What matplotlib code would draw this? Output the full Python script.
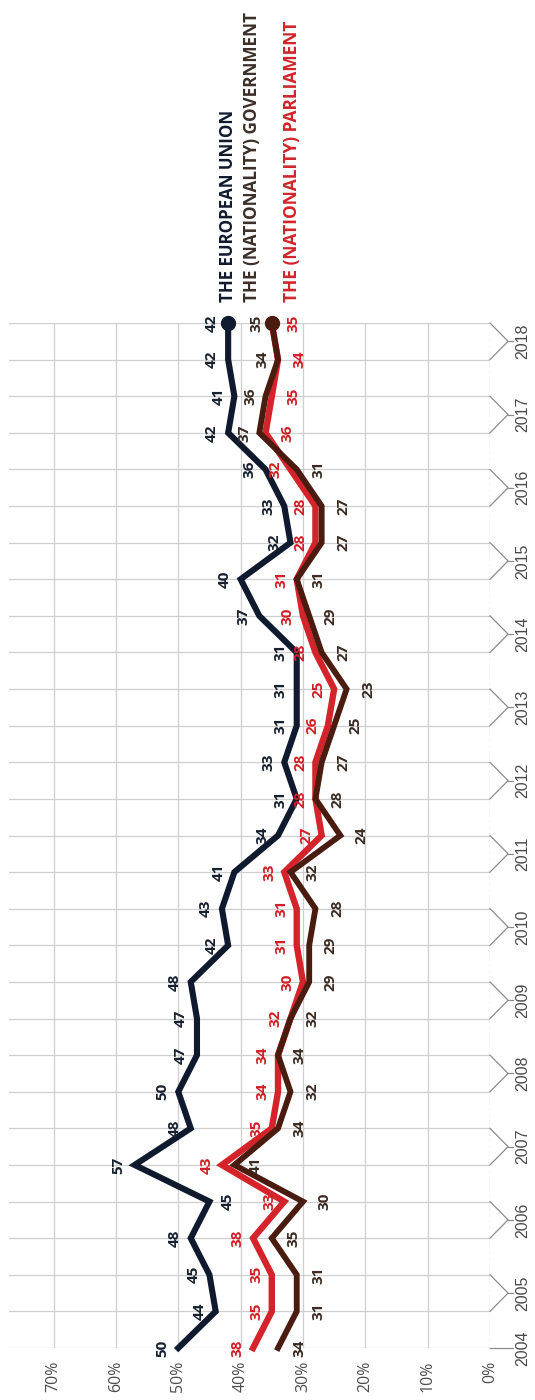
import matplotlib
matplotlib.use("Agg")
import matplotlib.pyplot as plt

# ---------------- data ----------------
first_year = 2004
years = list(range(2005, 2019))          # each of these years has two survey waves
eu = [50, 44, 45, 48, 45, 57, 48, 50, 47, 47, 48, 42, 43, 41, 34,
      31, 33, 31, 31, 31, 37, 40, 32, 33, 36, 42, 41, 42, 42]
gov = [34, 31, 31, 35, 30, 41, 34, 32, 34, 32, 29, 29, 28, 32, 24,
       28, 27, 25, 23, 27, 29, 31, 27, 27, 31, 37, 36, 34, 35]
parl = [38, 35, 35, 38, 33, 43, 35, 34, 34, 32, 30, 31, 31, 33, 27,
        28, 28, 26, 25, 28, 30, 31, 28, 28, 32, 36, 35, 34, 35]
series_names = ["THE EUROPEAN UNION", "THE (NATIONALITY) GOVERNMENT",
                "THE (NATIONALITY) PARLIAMENT"]
pct_ticks = [0, 10, 20, 30, 40, 50, 60, 70]
pct_labels = [f"{p}%" for p in pct_ticks]

# ---------------- style ----------------
C_EU = "#0f1a2e"
C_GOV = "#4a1c10"
C_PARL = "#d4232b"
C_EU_TXT = "#16202f"
C_GOV_TXT = "#3a2a22"
C_PARL_TXT = "#d11f26"
GRID = "#cfcfcf"
FONT = ["Open Sans", "DejaVu Sans"]
EU_LABEL_BELOW = {4}   # wave whose EU label sits on the other side of the line

fig = plt.figure(figsize=(5.35, 14), dpi=100)
ax = fig.add_axes([9 / 535, 52 / 1400, 481 / 535, 1025 / 1400])
n = len(eu)
idx = list(range(n))
ax.set_xlim(77.15, 0)
ax.set_ylim(0, n - 1)
for s in ax.spines.values():
    s.set_visible(False)

# grid
for i in idx:
    ax.axhline(i, color=GRID, lw=0.9, zorder=0)
for p in pct_ticks[1:]:
    ax.axvline(p, color=GRID, lw=0.9, zorder=0)
ax.axvline(0, color="#b0b0b0", lw=0.9, ls=(0, (3, 2)), zorder=0)

ax.set_yticks([])
ax.set_xticks(pct_ticks)
ax.set_xticklabels(pct_labels, rotation=90, fontsize=11.5, color="#4d4d4d",
                   family=FONT)
ax.tick_params(axis="x", length=0, pad=9)

# lines
ax.plot(eu, idx, color=C_EU, lw=4.4, solid_joinstyle="miter", zorder=5,
        clip_on=False)
ax.plot(parl, idx, color=C_PARL, lw=4.6, solid_joinstyle="miter", zorder=3,
        clip_on=False)
ax.plot(gov, idx, color=C_GOV, lw=4.2, solid_joinstyle="miter", zorder=4,
        clip_on=False)
ax.plot([eu[-1]], [idx[-1]], "o", color=C_EU, ms=10, zorder=6, clip_on=False)
ax.plot([gov[-1]], [idx[-1]], "o", color=C_GOV, ms=10, zorder=6, clip_on=False)

# value labels
lab_kw = dict(textcoords="offset points", rotation=90, ha="center",
              va="center", fontsize=11, fontweight="bold", family=FONT,
              zorder=7, annotation_clip=False)
UP, DOWN = -11.0, 15.5
for i in idx:
    dx = 13.0 if i in EU_LABEL_BELOW else -11.5
    ax.annotate(str(eu[i]), (eu[i], i), xytext=(dx, 0), color=C_EU_TXT,
                **lab_kw)
parl_above = True
for i in idx:
    if parl[i] > gov[i]:
        parl_above = True
    elif gov[i] > parl[i]:
        parl_above = False
    ax.annotate(str(parl[i]), (parl[i], i),
                xytext=(UP if parl_above else DOWN, 0), color=C_PARL_TXT,
                **lab_kw)
    ax.annotate(str(gov[i]), (gov[i], i),
                xytext=(DOWN if parl_above else UP, 0), color=C_GOV_TXT,
                **lab_kw)

# series names at the line ends
name_kw = dict(textcoords="offset points", rotation=90, ha="center",
               va="bottom", family=FONT, fontweight="bold",
               annotation_clip=False)
ax.annotate(series_names[0], (eu[-1], idx[-1]), xytext=(0, 15),
            color=C_EU, fontsize=12.2, **name_kw)
ax.annotate(series_names[1], (gov[-1], idx[-1]), xytext=(-14.4, 15),
            color="#3b2f29", fontsize=12.3, **name_kw)
ax.annotate(series_names[2], (parl[-1], idx[-1]), xytext=(14.4, 15),
            color=C_PARL, fontsize=12.5, **name_kw)

# year brackets
BR_X = -2.9
TICK_X = -3.7
YEAR_X = -5.2
yr_kw = dict(rotation=90, ha="center", va="center", fontsize=11.5,
             color="#4a4a4a", family=["Liberation Sans", "DejaVu Sans"],
             clip_on=False)
ax.plot([0, TICK_X], [0, 0], color="#8c8c8c", lw=0.9, clip_on=False)
ax.text(YEAR_X, 0, str(first_year), **yr_kw)
for k, y in enumerate(years):
    a, b = 2 * k + 1, 2 * k + 2
    m = (a + b) / 2
    ax.plot([0, BR_X, 0], [a, m, b], color="#8c8c8c", lw=0.9, clip_on=False)
    ax.plot([BR_X, TICK_X], [m, m], color="#8c8c8c", lw=0.9, clip_on=False)
    ax.text(YEAR_X, m, str(y), **yr_kw)

fig.savefig("out.png", dpi=100, facecolor="white")
